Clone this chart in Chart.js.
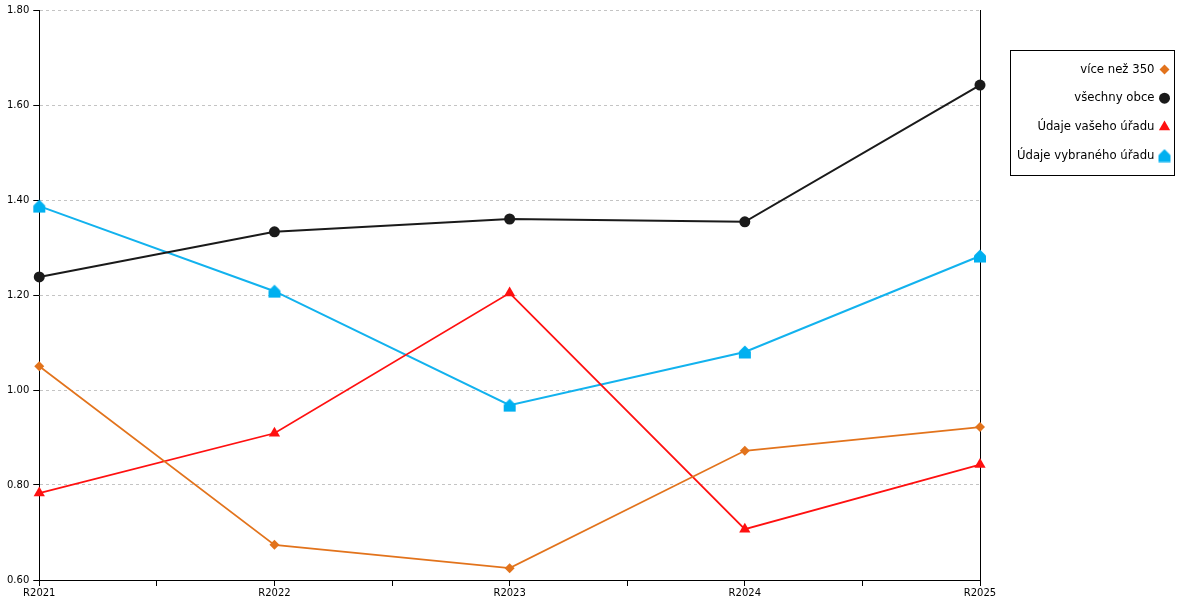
<!DOCTYPE html>
<html>
<head>
<meta charset="utf-8">
<script src="https://cdn.jsdelivr.net/npm/chart.js@4"></script>
<style>
  html, body { margin: 0; padding: 0; background: #fff; }
  #wrap { width: 1200px; height: 600px; }
</style>
</head>
<body>
<div id="wrap"><canvas id="graph"></canvas></div>
<script>
const years = ['R2021', 'R2022', 'R2023', 'R2024', 'R2025'];
const viceNez350 = [1.05, 0.674, 0.625, 0.872, 0.922];
const vsechnyObce = [1.238, 1.333, 1.36, 1.354, 1.642];
const vasUrad = [0.783, 0.909, 1.204, 0.707, 0.843];
const vybranyUrad = [1.387, 1.208, 0.968, 1.08, 1.282];
const yTicks = [0.6, 0.8, 1.0, 1.2, 1.4, 1.6, 1.8];

// house shaped marker (triangle on a square)
const house = document.createElement('canvas');
house.width = 14;
house.height = 14;
const hc = house.getContext('2d');
hc.fillStyle = '#00b0f0';
hc.beginPath();
hc.moveTo(7, 0.5);
hc.lineTo(13, 6.5);
hc.lineTo(13, 13.5);
hc.lineTo(1, 13.5);
hc.lineTo(1, 6.5);
hc.closePath();
hc.fill();

const toPoints = values => values.map((v, i) => ({ x: i, y: v }));

const series = [
  { label: 'více než 350', data: viceNez350, color: '#e2731c', width: 1.7, style: 'rectRot', radius: 5 },
  { label: 'všechny obce', data: vsechnyObce, color: '#1a1a1a', width: 2, style: 'circle', radius: 5.5 },
  { label: 'Údaje vašeho úřadu', data: vasUrad, color: '#ff1010', width: 1.7, style: 'triangle', radius: 6.5 },
  { label: 'Údaje vybraného úřadu', data: vybranyUrad, color: '#12b2ee', width: 2, style: house, radius: 7 },
];

const boxLegend = {
  id: 'boxLegend',
  afterDraw(chart) {
    const ctx = chart.ctx;
    const area = chart.chartArea;
    const left = area.right + 30.5;
    const top = area.top + 40.5;
    const w = 164;
    const h = 125;
    ctx.save();
    ctx.strokeStyle = '#000';
    ctx.lineWidth = 1;
    ctx.strokeRect(left, top, w, h);
    ctx.font = '11.7px "DejaVu Sans"';
    ctx.textAlign = 'right';
    ctx.textBaseline = 'middle';
    chart.data.datasets.forEach((ds, i) => {
      const y = top + 19 + i * 28.7;
      ctx.fillStyle = '#000';
      ctx.fillText(ds.label, left + w - 20, y);
      ctx.fillStyle = ds.pointBackgroundColor;
      ctx.strokeStyle = ds.pointBackgroundColor;
      Chart.helpers.drawPoint(ctx, {
        pointStyle: ds.pointStyle,
        radius: ds.pointRadius,
        rotation: 0,
        borderWidth: 0,
      }, left + w - 10, y);
    });
    ctx.restore();
  },
};

const ctx = document.getElementById('graph').getContext('2d');
new Chart(ctx, {
  type: 'line',
  data: {
    datasets: series.map(s => ({
      label: s.label,
      data: toPoints(s.data),
      borderColor: s.color,
      borderWidth: s.width,
      pointStyle: s.style,
      pointRadius: s.radius,
      pointHoverRadius: s.radius,
      pointBackgroundColor: s.color,
      pointBorderColor: s.color,
      pointBorderWidth: 0,
      tension: 0,
      fill: false,
      clip: false,
    })),
  },
  options: {
    responsive: true,
    maintainAspectRatio: false,
    animation: false,
    layout: { padding: { left: 3, right: 220, top: 4, bottom: 0 } },
    plugins: {
      legend: { display: false },
      tooltip: { enabled: false },
    },
    scales: {
      x: {
        type: 'linear',
        min: 0,
        max: 4,
        ticks: {
          stepSize: 0.5,
          autoSkip: false,
          maxRotation: 0,
          padding: 1,
          color: '#000',
          font: { family: 'DejaVu Sans', size: 10 },
          callback: v => (Number.isInteger(v) ? years[v] : ''),
        },
        grid: {
          drawOnChartArea: true,
          color: c => (c.tick && c.tick.value === 4 ? '#000' : 'rgba(0,0,0,0)'),
          tickColor: '#000',
          tickLength: 6,
          lineWidth: 1,
        },
        border: { display: true, color: '#000', width: 1 },
      },
      y: {
        min: 0.6,
        max: 1.8,
        afterBuildTicks: axis => {
          axis.ticks = yTicks.map(v => ({ value: v }));
        },
        ticks: {
          padding: 4,
          color: '#000',
          font: { family: 'DejaVu Sans', size: 10 },
          callback: v => Number(v).toFixed(2),
        },
        grid: {
          color: '#c4c4c4',
          tickColor: '#000',
          tickLength: 6,
          tickBorderDash: [],
        },
        border: { display: true, color: '#000', width: 1, dash: [3, 3] },
      },
    },
  },
  plugins: [boxLegend],
});
</script>
</body>
</html>
